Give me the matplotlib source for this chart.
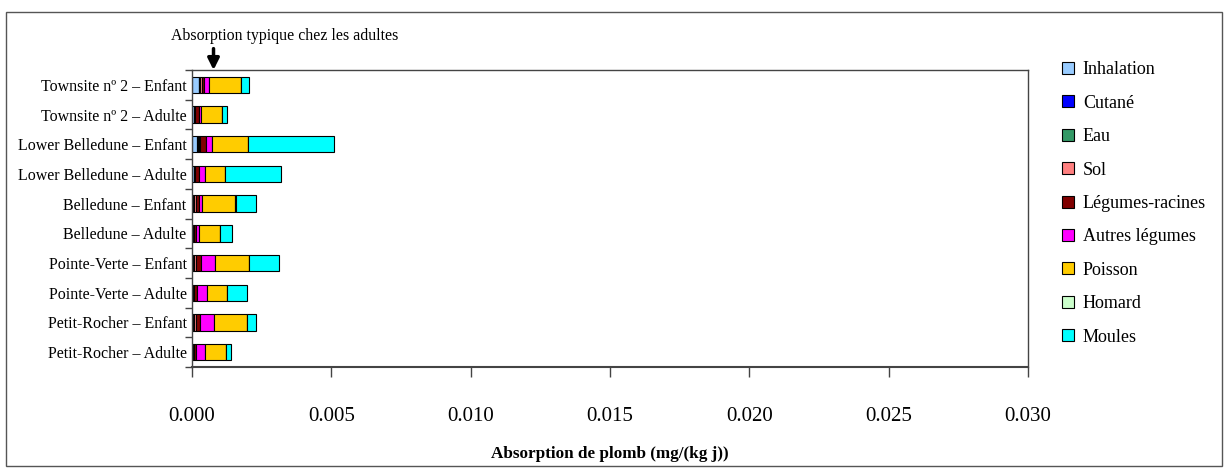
import numpy as np
import matplotlib
matplotlib.use("Agg")
import matplotlib.pyplot as plt
from matplotlib.patches import Patch, Rectangle

plt.rcParams['font.family'] = ['Liberation Serif', 'DejaVu Serif']

# Catégories (de haut en bas, comme dans le graphique)
categories = [
    "Townsite n\u00ba 2 \u2013 Enfant",
    "Townsite n\u00ba 2 \u2013 Adulte",
    "Lower Belledune \u2013 Enfant",
    "Lower Belledune \u2013 Adulte",
    "Belledune \u2013 Enfant",
    "Belledune \u2013 Adulte",
    "Pointe-Verte \u2013 Enfant",
    "Pointe-Verte \u2013 Adulte",
    "Petit-Rocher \u2013 Enfant",
    "Petit-Rocher \u2013 Adulte",
]

sources = ["Inhalation", "Cutan\u00e9", "Eau", "Sol", "L\u00e9gumes-racines",
           "Autres l\u00e9gumes", "Poisson", "Homard", "Moules"]
couleurs = ["#99CCFF", "#0000FF", "#339966", "#FF8080", "#800000",
            "#FF00FF", "#FFCC00", "#CCFFCC", "#00FFFF"]

# Absorption (mg/(kg j)) par source, même ordre que categories
inhalation = [0.00024, 0.00006, 0.00018, 0.00006, 0.00002, 0.00001, 0.00002, 0.00001, 0.00002, 0.00001]
cutane     = [0.00002, 0.00001, 0.00002, 0.00001, 0.00002, 0.00001, 0.00002, 0.00001, 0.00002, 0.00001]
eau        = [0.00003, 0.00003, 0.00004, 0.00003, 0.00004, 0.00003, 0.00004, 0.00003, 0.00004, 0.00003]
sol        = [0.00006, 0.00002, 0.00006, 0.00002, 0.00005, 0.00002, 0.00005, 0.00002, 0.00005, 0.00002]
racines    = [0.00008, 0.00013, 0.00019, 0.00013, 0.00012, 0.00006, 0.00020, 0.00011, 0.00017, 0.00007]
autres     = [0.00016, 0.00008, 0.00023, 0.00020, 0.00012, 0.00012, 0.00050, 0.00036, 0.00049, 0.00033]
poisson    = [0.00117, 0.00075, 0.00127, 0.00073, 0.00118, 0.00074, 0.00120, 0.00072, 0.00118, 0.00074]
homard     = [0.00001, 0.00001, 0.00001, 0.00001, 0.00001, 0.00001, 0.00001, 0.00001, 0.00001, 0.00001]
moules     = [0.00026, 0.00018, 0.00310, 0.00200, 0.00075, 0.00043, 0.00109, 0.00070, 0.00030, 0.00019]

series = [inhalation, cutane, eau, sol, racines, autres, poisson, homard, moules]

absorption_adultes = 0.00077

fig = plt.figure(figsize=(12.28, 4.74), dpi=100)
ax = fig.add_axes([0.1564, 0.2257, 0.6808, 0.6266])

n = len(categories)
y = np.arange(n)[::-1]
gauche = np.zeros(n)
for nom, vals, c in zip(sources, series, couleurs):
    vals = np.array(vals)
    ax.barh(y, vals, left=gauche, height=0.55, color=c, edgecolor='black', linewidth=0.8)
    gauche += vals

ax.set_xlim(0, 0.030)
ax.set_ylim(-0.5, n - 0.5)
ax.set_xticks(np.arange(0, 0.0301, 0.005))
ax.set_xticklabels([f"{v:.3f}" for v in np.arange(0, 0.0301, 0.005)], fontsize=15)
ax.tick_params(axis='x', length=7, width=1, pad=22, color='#444444')
ax.set_yticks(y)
ax.set_yticklabels(categories, fontsize=11.5)
ax.tick_params(axis='y', which='major', length=0, pad=4)
ax.set_yticks(np.arange(-0.5, n, 1.0), minor=True)
ax.tick_params(axis='y', which='minor', length=5, width=1, color='#444444')
for s in ax.spines.values():
    s.set_color('#444444')
    s.set_linewidth(1)
ax.spines['bottom'].set_linewidth(1.5)

ax.set_xlabel("Absorption de plomb (mg/(kg j))", fontsize=12.3, fontweight='bold', labelpad=14)

# Flèche : absorption typique chez les adultes
ax.annotate("", xy=(absorption_adultes, 1.0), xycoords=('data', 'axes fraction'),
            xytext=(absorption_adultes, 1.072), textcoords=('data', 'axes fraction'),
            arrowprops=dict(arrowstyle='-|>', lw=2.5, color='black', mutation_scale=17,
                            shrinkA=0, shrinkB=0))
fig.text(285 / 1228, 1 - 36 / 474, "Absorption typique chez les adultes",
         fontsize=11.4, ha='center', va='center')

handles = [Patch(facecolor=c, edgecolor='black', linewidth=0.8) for c in couleurs]
fig.legend(handles, sources, loc='upper left', bbox_to_anchor=(1055 / 1228, 1 - 54 / 474),
           frameon=False, fontsize=13, handlelength=0.64, handleheight=0.64,
           handletextpad=0.5, labelspacing=0.91, borderaxespad=0)

# Cadre extérieur
fig.patches.append(Rectangle((6 / 1228, 1 - 466 / 474), 1216 / 1228, 454 / 474,
                             transform=fig.transFigure, fill=False,
                             edgecolor='#555555', linewidth=1))

fig.savefig("out.png", dpi=100)
